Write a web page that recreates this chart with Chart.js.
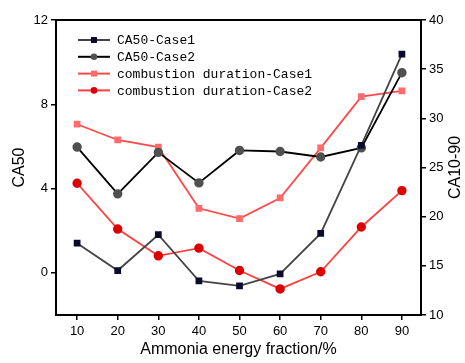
<!DOCTYPE html>
<html>
<head>
<meta charset="utf-8">
<script src="https://cdn.jsdelivr.net/npm/chart.js@4/dist/chart.umd.min.js"></script>
<style>
  html, body { margin: 0; padding: 0; background: #fff; }
  #wrap { width: 465px; height: 363px; }
</style>
</head>
<body>
<div id="wrap"><canvas id="chart" width="465" height="363"></canvas></div>
<script>
// --- Data ---
const fractions = [10, 20, 30, 40, 50, 60, 70, 80, 90];
const ca50Case1 = [1.41, 0.11, 1.81, -0.38, -0.62, -0.05, 1.87, 6.05, 10.38];
const ca50Case2 = [5.97, 3.75, 5.72, 4.27, 5.81, 5.76, 5.5, 5.93, 9.5];
const durCase1 = [29.4, 27.8, 27.07, 20.85, 19.8, 21.9, 27.0, 32.2, 32.8];
const durCase2 = [23.4, 18.74, 16.02, 16.8, 14.53, 12.65, 14.4, 18.95, 22.65];
const leftTicks = [0, 4, 8, 12];
const rightTicks = [10, 15, 20, 25, 30, 35, 40];
const rightTitle = 'CA10-90';

const pts = vals => vals.map((v, i) => ({ x: fractions[i], y: v }));

const tickFont = { family: 'Liberation Sans, Arial, sans-serif', size: 13 };
const titleFont = { family: 'Liberation Sans, Arial, sans-serif', size: 16 };

// frame, legend and right axis title (reads bottom-to-top like the left one)
const framePlugin = {
  id: 'frame',
  afterDraw(chart) {
    const { ctx, chartArea: a } = chart;
    ctx.save();
    ctx.strokeStyle = '#000';
    ctx.lineWidth = 2;
    ctx.strokeRect(a.left, a.top, a.right - a.left, a.bottom - a.top);

    // legend
    ctx.font = '13px "Liberation Mono", "DejaVu Sans Mono", monospace';
    ctx.textBaseline = 'middle';
    chart.data.datasets.forEach((ds, i) => {
      const y = 40 + i * 16.8;
      const x0 = 78, x1 = 110;
      ctx.strokeStyle = ds.borderColor;
      ctx.lineWidth = 2;
      ctx.beginPath(); ctx.moveTo(x0, y); ctx.lineTo(x1, y); ctx.stroke();
      ctx.fillStyle = ds.pointBackgroundColor;
      const cx = (x0 + x1) / 2;
      if (ds.pointStyle === 'rect') ctx.fillRect(cx - 3, y - 3, 6, 6);
      else { ctx.beginPath(); ctx.arc(cx, y, 3.3, 0, Math.PI * 2); ctx.fill(); }
      ctx.fillStyle = '#000';
      ctx.fillText(ds.label, 117, y + 1);
    });

    // right title
    ctx.translate(456, (a.top + a.bottom) / 2);
    ctx.rotate(-Math.PI / 2);
    ctx.font = '16px "Liberation Sans", Arial, sans-serif';
    ctx.textAlign = 'center';
    ctx.fillStyle = '#000';
    ctx.fillText(rightTitle, 0, 0);
    ctx.restore();
  }
};

new Chart(document.getElementById('chart'), {
  type: 'line',
  data: {
    datasets: [
      { label: 'CA50-Case1', data: pts(ca50Case1), yAxisID: 'y',
        borderColor: '#444444', pointBackgroundColor: '#0b0b2e', pointBorderColor: '#0b0b2e',
        pointStyle: 'rect', pointRadius: 3.5, borderWidth: 1.8 },
      { label: 'CA50-Case2', data: pts(ca50Case2), yAxisID: 'y',
        borderColor: '#000000', pointBackgroundColor: '#505050', pointBorderColor: '#505050',
        pointStyle: 'circle', pointRadius: 3.8, borderWidth: 1.8 },
      { label: 'combustion duration-Case1', data: pts(durCase1), yAxisID: 'y1',
        borderColor: '#ff4a4a', pointBackgroundColor: '#ff6b6b', pointBorderColor: '#ff6b6b',
        pointStyle: 'rect', pointRadius: 3.5, borderWidth: 1.8 },
      { label: 'combustion duration-Case2', data: pts(durCase2), yAxisID: 'y1',
        borderColor: '#ff4040', pointBackgroundColor: '#dd0000', pointBorderColor: '#dd0000',
        pointStyle: 'circle', pointRadius: 3.8, borderWidth: 1.8 }
    ]
  },
  options: {
    responsive: false,
    animation: false,
    layout: { padding: { top: 20, right: 0, left: 0, bottom: 0 } },
    plugins: { legend: { display: false }, tooltip: { enabled: false } },
    scales: {
      x: {
        type: 'linear', min: 4.8, max: 94.7,
        afterBuildTicks: s => { s.ticks = fractions.map(v => ({ value: v })); },
        afterFit: s => { s.height = 48; },
        grid: { drawOnChartArea: false, tickLength: 5, color: '#000', lineWidth: 1.5 },
        border: { display: true, color: '#000', width: 2 },
        ticks: { color: '#000', font: tickFont, padding: 4 },
        title: { display: true, text: 'Ammonia energy fraction/%', color: '#000', font: titleFont, padding: { top: 9 } }
      },
      y: {
        position: 'left', min: -2, max: 12,
        afterBuildTicks: s => { s.ticks = leftTicks.map(v => ({ value: v })); },
        afterFit: s => { s.width = 56; },
        grid: { drawOnChartArea: false, tickLength: 5, color: '#000', lineWidth: 1.5 },
        border: { display: true, color: '#000', width: 2 },
        ticks: { color: '#000', font: tickFont, padding: 3 },
        title: { display: true, text: 'CA50', color: '#000', font: titleFont, padding: { top: 10, bottom: 0 } }
      },
      y1: {
        position: 'right', min: 10, max: 40,
        afterBuildTicks: s => { s.ticks = rightTicks.map(v => ({ value: v })); },
        afterFit: s => { s.width = 44; },
        grid: { drawOnChartArea: false, tickLength: 5, color: '#000', lineWidth: 1.5 },
        border: { display: true, color: '#000', width: 2 },
        ticks: { color: '#000', font: tickFont, padding: 3 }
      }
    }
  },
  plugins: [framePlugin]
});
</script>
</body>
</html>
